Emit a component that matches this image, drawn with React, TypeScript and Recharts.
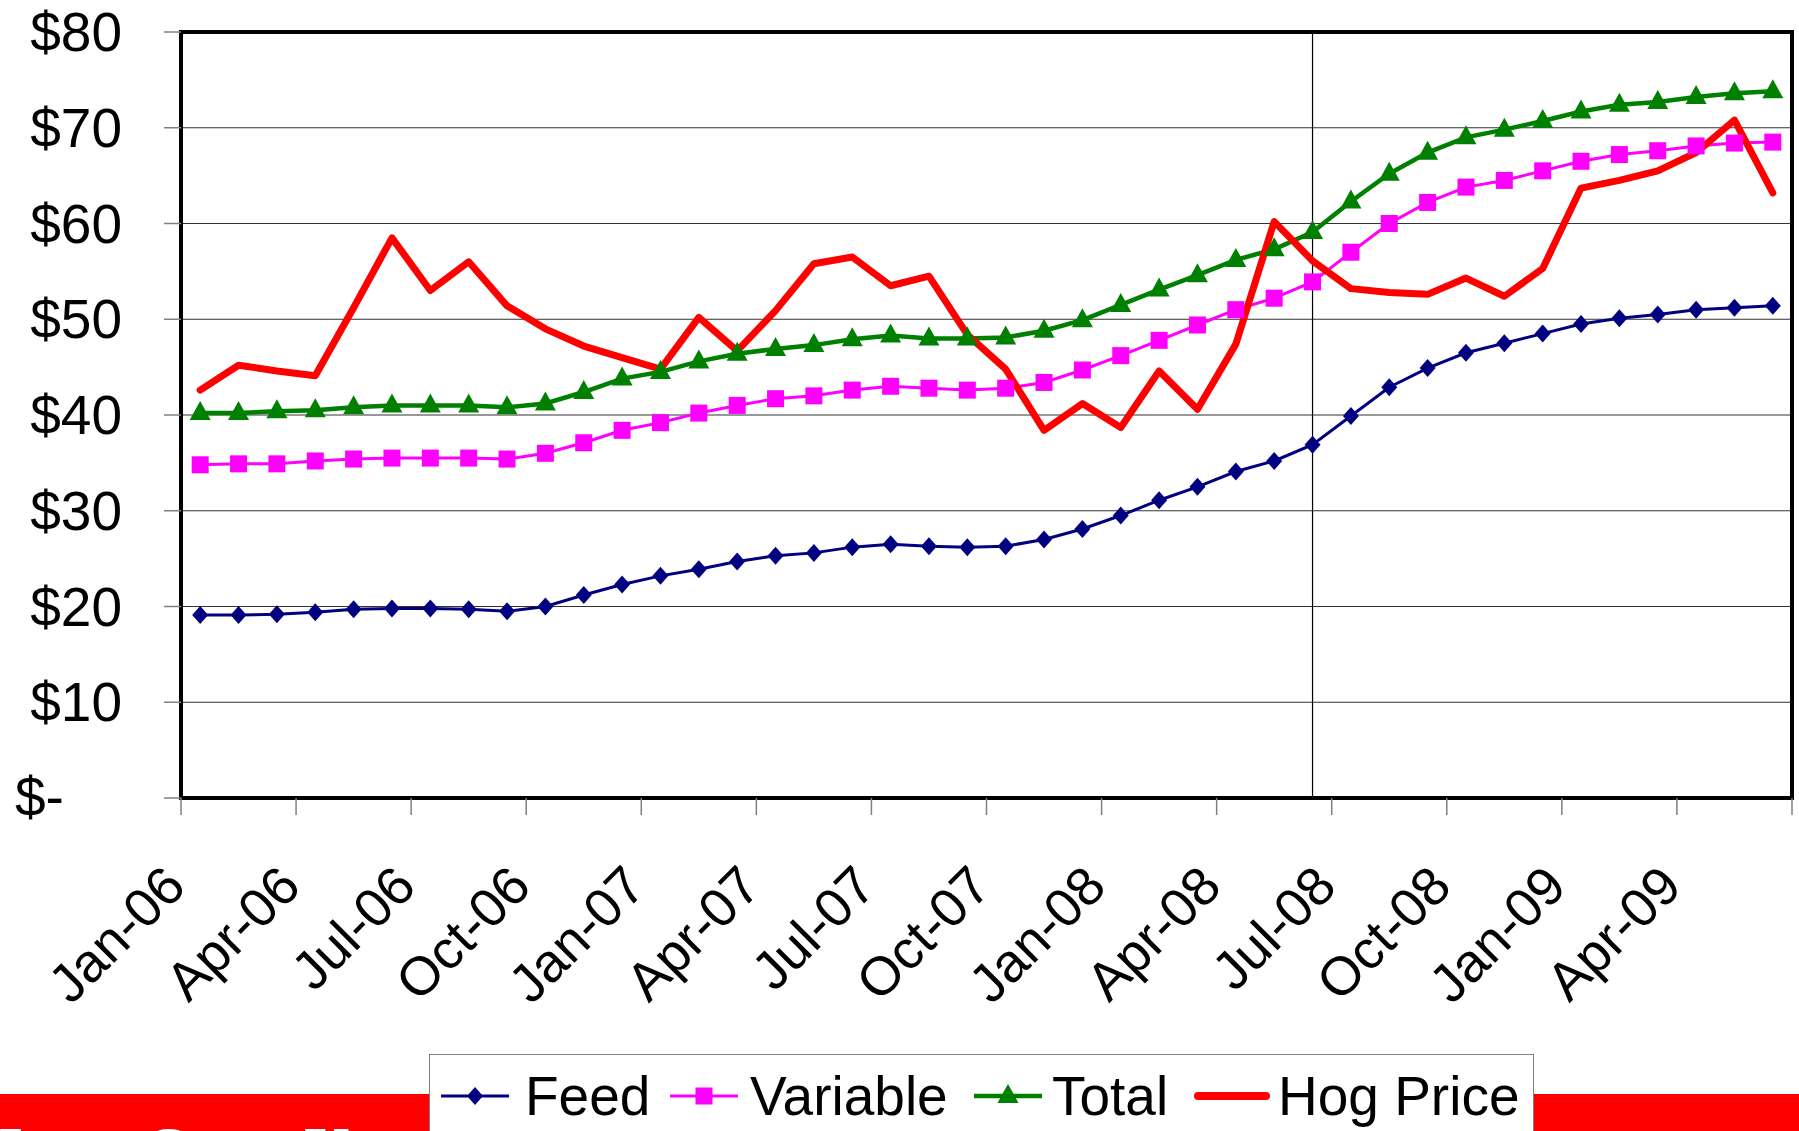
import { LineChart, Line, XAxis, YAxis, CartesianGrid, ReferenceLine, ReferenceArea } from "recharts";

// monthly cost of production vs. hog price, $/cwt
const MONTHS = [
  "Jan-06", "Feb-06", "Mar-06", "Apr-06", "May-06", "Jun-06", "Jul-06", "Aug-06", "Sep-06", "Oct-06", "Nov-06", "Dec-06",
  "Jan-07", "Feb-07", "Mar-07", "Apr-07", "May-07", "Jun-07", "Jul-07", "Aug-07", "Sep-07", "Oct-07", "Nov-07", "Dec-07",
  "Jan-08", "Feb-08", "Mar-08", "Apr-08", "May-08", "Jun-08", "Jul-08", "Aug-08", "Sep-08", "Oct-08", "Nov-08", "Dec-08",
  "Jan-09", "Feb-09", "Mar-09", "Apr-09", "May-09", "Jun-09",
];

const FEED = [
  19.1, 19.1, 19.2, 19.4, 19.7, 19.8, 19.8, 19.7, 19.5, 20.0, 21.2, 22.3,
  23.2, 23.9, 24.7, 25.3, 25.6, 26.2, 26.5, 26.3, 26.2, 26.3, 27.0, 28.1,
  29.5, 31.1, 32.5, 34.1, 35.2, 36.9, 39.9, 42.9, 44.9, 46.5, 47.5, 48.5,
  49.5, 50.1, 50.5, 51.0, 51.2, 51.4,
];

const VARIABLE = [
  34.8, 34.9, 34.9, 35.2, 35.4, 35.5, 35.5, 35.5, 35.4, 36.0, 37.1, 38.4,
  39.2, 40.2, 41.0, 41.7, 42.0, 42.6, 43.0, 42.8, 42.6, 42.8, 43.4, 44.7,
  46.2, 47.8, 49.4, 51.0, 52.2, 53.9, 57.0, 60.0, 62.2, 63.8, 64.5, 65.5,
  66.5, 67.2, 67.6, 68.1, 68.4, 68.5,
];

const TOTAL = [
  40.2, 40.2, 40.4, 40.5, 40.8, 41.0, 41.0, 41.0, 40.8, 41.2, 42.4, 43.8,
  44.5, 45.6, 46.4, 46.9, 47.3, 47.9, 48.3, 48.0, 48.0, 48.1, 48.8, 49.9,
  51.5, 53.1, 54.6, 56.2, 57.3, 59.1, 62.3, 65.2, 67.4, 69.0, 69.8, 70.7,
  71.7, 72.4, 72.7, 73.2, 73.6, 73.8,
];

const HOG_PRICE = [
  42.6, 45.2, 44.6, 44.1, 51.2, 58.5, 53.0, 56.0, 51.4, 49.0, 47.2, 46.0,
  44.8, 50.2, 46.7, 50.9, 55.8, 56.5, 53.5, 54.5, 48.4, 44.8, 38.4, 41.2,
  38.7, 44.6, 40.6, 47.4, 60.2, 56.1, 53.2, 52.8, 52.6, 54.3, 52.4, 55.3,
  63.7, 64.5, 65.5, 67.4, 70.8, 63.2,
];

const TICK_LABELS = [
  "Jan-06", "Apr-06", "Jul-06", "Oct-06", "Jan-07", "Apr-07", "Jul-07",
  "Oct-07", "Jan-08", "Apr-08", "Jul-08", "Oct-08", "Jan-09", "Apr-09",
];
const Y_TICKS = [0, 10, 20, 30, 40, 50, 60, 70, 80];
const MARKED_MONTH = "Jun-08";
const FOOTER_TEXT = "Iowa State University";

const FONT = "'Liberation Sans', Arial, sans-serif";
const W = 1799;
const H = 1131;

const rows = MONTHS.map((m, i) => ({
  x: i + 0.5,
  month: m,
  feed: FEED[i],
  variable: VARIABLE[i],
  total: TOTAL[i],
  hog: HOG_PRICE[i],
}));
const xTicks = TICK_LABELS.map((_, i) => i * 3).concat(MONTHS.length);
const markedX = rows.find((r) => r.month === MARKED_MONTH)!.x;

function Diamond({ cx, cy }: { cx: number; cy: number }) {
  return <polygon points={`${cx},${cy - 9} ${cx + 8},${cy} ${cx},${cy + 9} ${cx - 8},${cy}`} fill="#000080" />;
}
function Square({ cx, cy }: { cx: number; cy: number }) {
  return <rect x={cx - 8.5} y={cy - 8.5} width={17} height={17} fill="#FF00FF" />;
}
function Triangle({ cx, cy }: { cx: number; cy: number }) {
  return <polygon points={`${cx},${cy - 12} ${cx + 10.5},${cy + 7} ${cx - 10.5},${cy + 7}`} fill="#008000" />;
}

function YTick({ y, payload }: any) {
  const v = payload.value;
  if (v === 0) {
    return (
      <text x={15} y={y + 18} fontSize={55} fontFamily={FONT} fill="#000">
        $-
      </text>
    );
  }
  return (
    <text x={122} y={y + 19} textAnchor="end" fontSize={55} fontFamily={FONT} fill="#000">
      {"$" + v}
    </text>
  );
}

function XTick({ x, y, payload }: any) {
  const label = TICK_LABELS[payload.value / 3];
  if (!label) return null;
  const ax = x + 7;
  const ay = y + 74;
  return (
    <text
      x={ax}
      y={ay}
      textAnchor="end"
      transform={`rotate(-45, ${ax}, ${ay})`}
      fontSize={54}
      fontFamily={FONT}
      fill="#000"
    >
      {label}
    </text>
  );
}

const LEGEND = [
  { name: "Feed", color: "#000080", width: 3, marker: Diamond, lx: 12, tx: 96 },
  { name: "Variable", color: "#FF00FF", width: 3, marker: Square, lx: 241, tx: 321 },
  { name: "Total", color: "#008000", width: 4.5, marker: Triangle, lx: 545, tx: 623 },
  { name: "Hog Price", color: "#FF0000", width: 8, marker: null, lx: 769, tx: 849 },
];

function LegendBox() {
  return (
    <svg width={1106} height={77} style={{ position: "absolute", left: 429, top: 1054 }}>
      <rect x={0.5} y={0.5} width={1104} height={90} fill="#fff" stroke="#808080" strokeWidth={1} />
      {LEGEND.map((it) => {
        const M = it.marker;
        return (
          <g key={it.name}>
            <line
              x1={it.lx}
              x2={it.lx + 68}
              y1={42}
              y2={42}
              stroke={it.color}
              strokeWidth={it.width}
              strokeLinecap={it.marker ? "butt" : "round"}
            />
            {M && <M cx={it.lx + 34} cy={42} />}
            <text x={it.tx} y={61} fontSize={55} fontFamily={FONT} fill="#000">
              {it.name}
            </text>
          </g>
        );
      })}
    </svg>
  );
}

export default function App() {
  return (
    <div style={{ position: "absolute", left: 0, top: 0, width: W, height: H, background: "#fff", overflow: "hidden" }}>
      <LineChart width={W} height={H} data={rows} margin={{ top: 32, right: 7, bottom: 0, left: 0 }}>
        <CartesianGrid vertical={false} stroke="#333" strokeWidth={1} />
        <XAxis
          type="number"
          dataKey="x"
          domain={[0, MONTHS.length]}
          ticks={xTicks}
          interval={0}
          height={333}
          tickSize={17}
          tickMargin={0}
          tickLine={{ stroke: "#808080", strokeWidth: 1.5 }}
          axisLine={{ stroke: "#000", strokeWidth: 4 }}
          tick={<XTick />}
        />
        <YAxis
          type="number"
          domain={[0, 80]}
          ticks={Y_TICKS}
          interval={0}
          width={181}
          tickSize={17}
          tickMargin={0}
          tickLine={{ stroke: "#808080", strokeWidth: 1.5 }}
          axisLine={{ stroke: "#000", strokeWidth: 4 }}
          tick={<YTick />}
        />
        <ReferenceArea x1={0} x2={MONTHS.length} y1={0} y2={80} fill="none" stroke="#000" strokeWidth={4} />
        <ReferenceLine x={markedX} stroke="#000" strokeWidth={1.2} />
        <Line
          dataKey="feed"
          stroke="#000080"
          strokeWidth={3}
          isAnimationActive={false}
          activeDot={false}
          dot={(p: any) => <Diamond key={"f" + p.index} cx={p.cx} cy={p.cy} />}
        />
        <Line
          dataKey="variable"
          stroke="#FF00FF"
          strokeWidth={3}
          isAnimationActive={false}
          activeDot={false}
          dot={(p: any) => <Square key={"v" + p.index} cx={p.cx} cy={p.cy} />}
        />
        <Line
          dataKey="total"
          stroke="#008000"
          strokeWidth={4.5}
          isAnimationActive={false}
          activeDot={false}
          dot={(p: any) => <Triangle key={"t" + p.index} cx={p.cx} cy={p.cy} />}
        />
        <Line
          dataKey="hog"
          stroke="#FF0000"
          strokeWidth={7}
          strokeLinejoin="round"
          strokeLinecap="round"
          isAnimationActive={false}
          activeDot={false}
          dot={false}
        />
      </LineChart>
      <div style={{ position: "absolute", left: 0, top: 1094, width: W, height: 40, background: "#FF0000" }} />
      {/* footer title of the slide, only the tops of its letters peek in above the page edge */}
      <div style={{ position: "absolute", left: 0, top: 1094, width: 352, height: 40, overflow: "hidden" }}>
        <span
          style={{
            position: "absolute",
            left: -2,
            top: 24,
            fontFamily: "'Liberation Serif', 'Times New Roman', serif",
            fontWeight: "bold",
            fontSize: 64,
            lineHeight: "64px",
            color: "#fff",
            whiteSpace: "nowrap",
          }}
        >
          {FOOTER_TEXT}
        </span>
      </div>
      <LegendBox />
    </div>
  );
}
